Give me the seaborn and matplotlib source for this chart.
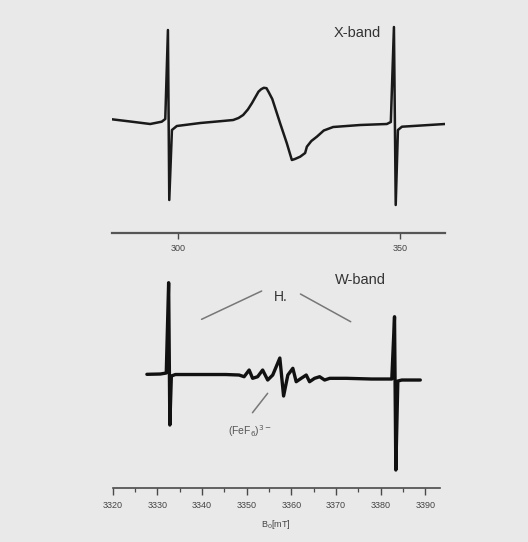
import matplotlib
matplotlib.use("Agg")
import matplotlib.pyplot as plt
import seaborn as sns
import pandas as pd
from matplotlib.ticker import MultipleLocator

# ---------------- data ----------------
xband_field = [285.1, 289.2, 293.7, 296.3, 297.1, 297.7, 298.0, 298.6, 299.7,
               305.0, 310.0, 312.4, 313.6, 314.64, 315.7, 316.6, 318.09, 318.7,
               319.3, 319.9, 320.34, 321.2, 322.97, 324.48, 325.2, 325.61,
               326.3, 327.48, 328.6, 328.99, 330.0, 331.24, 332.8, 334.91,
               341.0, 347.0, 347.9, 348.6, 349.0, 349.5, 350.4, 360.1]
xband_signal = [5.7, 3.5, 1.0, 3.3, 6.0, 95.0, -75.0, -5.0, -1.0,
                2.0, 4.0, 5.0, 7.0, 10.0, 15.5, 21.7, 33.3, 35.8,
                37.2, 36.8, 33.3, 26.0, 1.7, -18.3, -29.0, -35.0,
                -34.0, -31.7, -28.0, -21.7, -16.0, -11.7, -5.5, -2.0,
                0.0, 1.0, 3.0, 98.0, -80.0, -5.0, -1.7, 1.0]

wband_field = [3327.66, 3330.66, 3332.0, 3332.53, 3332.80, 3333.14, 3334.04,
               3339.7, 3345.31, 3348.31, 3349.43, 3350.56, 3351.33, 3352.45,
               3353.58, 3354.71, 3355.84, 3357.43, 3358.27, 3359.22, 3360.34,
               3361.09, 3362.21, 3363.34, 3364.08, 3365.21, 3366.34, 3367.46,
               3368.59, 3372.35, 3378.0, 3382.5, 3383.11, 3383.40, 3383.85,
               3384.75, 3388.88]
wband_signal = [1.7, 2.0, 3.0, 93.3, -49.0, 0.0, 1.5,
                1.5, 1.5, 1.0, -0.7, 6.0, -2.3, -0.7,
                6.0, -4.0, 1.0, 18.0, -20.0, 1.0, 7.7,
                -5.7, -2.3, 1.0, -5.7, -2.3, -0.7, -4.0,
                -2.3, -2.3, -3.0, -3.0, 59.3, -94.0, -5.0,
                -4.0, -4.0]

xband_ticks = [300, 350]
xband_ticklabels = ["300", "350"]
wband_ticks = [3320, 3330, 3340, 3350, 3360, 3370, 3380, 3390]
wband_ticklabels = [str(t) for t in wband_ticks]

# ---------------- style ----------------
sns.set_theme(style="white")
plt.rcParams["font.family"] = ["Liberation Sans", "DejaVu Sans"]
plt.rcParams["lines.solid_joinstyle"] = "round"
plt.rcParams["lines.solid_capstyle"] = "round"
BG = "#e9e9e9"
TXT = "#333333"
AX = "#4a4a4a"

fig = plt.figure(figsize=(5.28, 5.42), dpi=100, facecolor=BG)

df_x = pd.DataFrame({"field": xband_field, "signal": xband_signal})
df_w = pd.DataFrame({"field": wband_field, "signal": wband_signal})

# top panel: X-band
ax1 = fig.add_axes([0.2121, 0.5701, 0.6307, 0.393])
ax1.set_facecolor("none")
sns.lineplot(data=df_x, x="field", y="signal", ax=ax1, color="#1a1a1a",
             lw=1.8, sort=False, estimator=None)
ax1.set_xlim(285.1, 360.1)
ax1.set_ylim(-108, 105)

# bottom panel: W-band
ax2 = fig.add_axes([0.2134, 0.0996, 0.620, 0.4022])
ax2.set_facecolor("none")
sns.lineplot(data=df_w, x="field", y="signal", ax=ax2, color="#111111",
             lw=2.4, sort=False, estimator=None)
ax2.set_xlim(3320.0, 3393.3)
ax2.set_ylim(-112, 106)

for ax in (ax1, ax2):
    for s in ("top", "right", "left"):
        ax.spines[s].set_visible(False)
    ax.spines["bottom"].set_color(AX)
    ax.set_yticks([])
    ax.set_ylabel("")
    ax.set_xlabel("")

ax1.spines["bottom"].set_linewidth(1.6)
ax1.spines["bottom"].set_color("#555555")
ax1.set_xticks(xband_ticks)
ax1.set_xticklabels(xband_ticklabels)
ax1.tick_params(axis="x", direction="out", length=4, width=1.0, color=AX,
                labelsize=6.5, labelcolor="#444444", pad=4, bottom=True)

ax2.spines["bottom"].set_linewidth(1.2)
ax2.set_xticks(wband_ticks)
ax2.set_xticklabels(wband_ticklabels)
ax2.xaxis.set_minor_locator(MultipleLocator(5))
ax2.tick_params(axis="x", which="major", direction="out", length=5, width=1.0,
                color=AX, labelsize=6.5, labelcolor="#444444", pad=4, bottom=True)
ax2.tick_params(axis="x", which="minor", direction="out", length=3, width=0.9,
                color=AX, bottom=True)
ax2.set_xlabel("B$_0$[mT]", fontsize=6.5, color="#444444", labelpad=6)

# annotations
ax1.text(340.4, 92, "X-band", fontsize=10.5, color=TXT, ha="center", va="center")
ax2.text(3375.5, 96, "W-band", fontsize=10.5, color=TXT, ha="center", va="center")
ax2.text(3357.7, 79, "H.", fontsize=10, color=TXT, ha="center", va="center")
ax2.plot([3353.36, 3339.9], [85, 56.7], color="#777777", lw=1.1)
ax2.plot([3362.05, 3373.3], [82, 54.3], color="#777777", lw=1.1)
ax2.plot([3351.3, 3354.7], [-36.7, -17.3], color="#777777", lw=1.1)
ax2.text(3350.7, -55, "(FeF$_6$)$^{3-}$", fontsize=7.5, color="#555555",
         ha="center", va="center")

fig.savefig("out.png", dpi=100, facecolor=BG)
